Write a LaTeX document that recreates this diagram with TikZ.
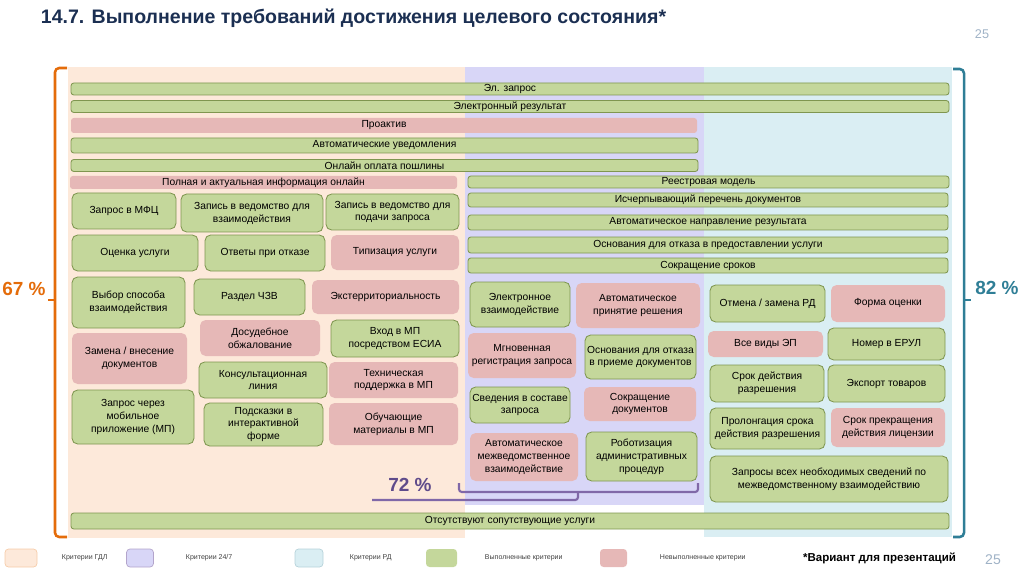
\documentclass[tikz,border=0pt]{standalone}
\usepackage{fontspec}
\setmainfont{Liberation Sans}

\definecolor{gdlbg}{HTML}{FDE9DA}
\definecolor{fullbg}{HTML}{D8D6F7}
\definecolor{rdbg}{HTML}{DAEEF3}
\definecolor{okfill}{HTML}{C4D79B}
\definecolor{okline}{HTML}{7F9650}
\definecolor{nofill}{HTML}{E6B8B7}
\definecolor{pctorange}{HTML}{E46C0A}
\definecolor{pctteal}{HTML}{2F7E96}
\definecolor{pctviolet}{HTML}{5F4B8B}
\definecolor{braceviolet}{HTML}{8068A8}
\definecolor{titleblue}{HTML}{1B2F52}
\definecolor{pagegray}{HTML}{9FB2C6}

\newcommand\boxfont{\fontsize{7.3}{9.2}\selectfont}
\newcommand\legfont{\fontsize{5}{6}\selectfont}

\tikzset{
  sz/.style 2 args={minimum width=#1*0.25mm, minimum height=#2*0.25mm},
  crit/.style={rounded corners=4pt, inner sep=0pt, align=center, font=\boxfont},
  okbox/.style={crit, draw=okline, fill=okfill, line width=0.6pt},
  nobox/.style={crit, fill=nofill},
  okbar/.style={okbox, rounded corners=2pt},
  nobar/.style={nobox, rounded corners=2pt},
  swatch/.style={rounded corners=2.5pt, line width=0.5pt, sz={#1}{18}},
  legtext/.style={anchor=west, font=\legfont, text=black!75},
  pct/.style={font=\fontsize{13.5}{15}\selectfont\bfseries},
}

\begin{document}
\begin{tikzpicture}[x=0.25mm, y=-0.25mm]
  \useasboundingbox (0,0) rectangle (1024,574);

  % Title
  \node (title) [anchor=west, text=titleblue, font=\fontsize{13.9}{15}\selectfont\bfseries] at (36,18)
    {14.7. Выполнение требований достижения целевого состояния*};
  \node (pagetop) [text=pagegray, font=\fontsize{9}{10}\selectfont] at (982,34) {25};

  % Backgrounds
  \fill[gdlbg] (68,67) rectangle (465,538);
  \fill[fullbg] (465,67) rectangle (704,505);
  \fill[rdbg] (704,67) rectangle (952,537);

  % Brackets
  \draw[pctorange, line width=1.8pt, rounded corners=3pt] (67,68) -| (55,537) -- (67,537);
  \draw[pctorange, line width=1.8pt] (55,300) -- (48,300);
  \draw[pctteal, line width=1.8pt, rounded corners=3pt] (953,69) -| (964,537) -- (953,537);
  \draw[pctteal, line width=1.8pt] (964,300) -- (971,300);
  \draw[braceviolet, line width=1.5pt, rounded corners=2pt] (459,483) -- (459,492) -- (698,492) -- (698,483);
  \draw[braceviolet, line width=1.5pt, rounded corners=2pt] (578,492) -- (578,500) -- (372,500);

  \node (p67) [pct, text=pctorange] at (24,289) {67 \%};
  \node (p82) [pct, text=pctteal] at (997,288) {82 \%};
  \node (p72) [pct, text=pctviolet] at (410,485) {72 \%};

  % Common bars
  \node (elzapros) [okbar, sz={878}{12}] at (510,89) {Эл. запрос};
  \node (elresult) [okbar, sz={878}{12}] at (510,106.5) {Электронный результат};
  \node (proaktiv) [nobar, sz={626}{15}] at (384,125.5) {Проактив};
  \node (avtouved) [okbar, sz={627}{15}] at (384.5,145.5) {Автоматические уведомления};
  \node (oplata) [okbar, sz={627}{12}] at (384.5,165.5) {Онлайн оплата пошлины};
  \node (polnaya) [nobar, sz={387}{13}] at (263.5,182.5) {Полная и актуальная информация онлайн};
  \node (reestr) [okbar, sz={481}{12}] at (708.5,182) {Реестровая модель};
  \node (perechen) [okbar, sz={480}{14}] at (708,200) {Исчерпывающий перечень документов};
  \node (napravl) [okbar, sz={480}{15}] at (708,222.5) {Автоматическое направление результата};
  \node (osnusl) [okbar, sz={480}{16}] at (708,245) {Основания для отказа в предоставлении услуги};
  \node (sroki) [okbar, sz={480}{15}] at (708,265.5) {Сокращение сроков};
  \node (soput) [okbar, sz={878}{16}] at (510,521) {Отсутствуют сопутствующие услуги};

  % GDL criteria
  \node (mfc) [okbox, sz={104}{36}] at (124,211) {Запрос в МФЦ};
  \node (zapvz) [okbox, sz={142}{38}] at (252,213) {Запись в ведомство для\\взаимодействия};
  \node (zappod) [okbox, sz={133}{36}] at (392.5,212) {Запись в ведомство для\\подачи запроса};
  \node (ocenka) [okbox, sz={126}{36}] at (135,253) {Оценка услуги};
  \node (otvety) [okbox, sz={120}{36}] at (265,253) {Ответы при отказе};
  \node (tipiz) [nobox, sz={128}{35}] at (395,252.5) {Типизация услуги};
  \node (vybor) [okbox, sz={113}{51}] at (128.5,302.5) {Выбор способа\\взаимодействия};
  \node (czv) [okbox, sz={111}{36}] at (249.5,297) {Раздел ЧЗВ};
  \node (ekster) [nobox, sz={147}{34}] at (385.5,297) {Экстерриториальность};
  \node (dosud) [nobox, sz={120}{36}] at (260,338) {Досудебное\\обжалование};
  \node (vhod) [okbox, sz={128}{37}] at (395,338.5) {Вход в МП\\посредством ЕСИА};
  \node (zamena) [nobox, sz={115}{51}] at (129.5,358.5) {Замена / внесение\\документов};
  \node (konsult) [okbox, sz={128}{36}] at (263,380) {Консультационная\\линия};
  \node (tehpod) [nobox, sz={129}{36}] at (393.5,380) {Техническая\\поддержка в МП};
  \node (zapmp) [okbox, sz={122}{54}] at (133,417) {Запрос через\\мобильное\\приложение (МП)};
  \node (podsk) [okbox, sz={119}{43}] at (263.5,424.5) {Подсказки в\\интерактивной\\форме};
  \node (obuch) [nobox, sz={129}{42}] at (393.5,424) {Обучающие\\материалы в МП};

  % 24/7 criteria
  \node (elvz) [okbox, sz={100}{45}] at (520,304.5) {Электронное\\взаимодействие};
  \node (avtoresh) [nobox, sz={124}{45}] at (638,305.5) {Автоматическое\\принятие решения};
  \node (mgnov) [nobox, sz={108}{45}] at (522,355.5) {Мгновенная\\регистрация запроса};
  \node (osnpriem) [okbox, sz={111}{44}] at (640.5,357) {Основания для отказа\\в приеме документов};
  \node (sved) [okbox, sz={100}{36}] at (520,405) {Сведения в составе\\запроса};
  \node (sokrdoc) [nobox, sz={112}{34}] at (640,404) {Сокращение\\документов};
  \node (avtomezh) [nobox, sz={108}{48}] at (524,457) {Автоматическое\\межведомственное\\взаимодействие};
  \node (robot) [okbox, sz={111}{49}] at (641.5,456.5) {Роботизация\\административных\\процедур};

  % RD criteria
  \node (otmena) [okbox, sz={115}{37}] at (767.5,303.5) {Отмена / замена РД};
  \node (forma) [nobox, sz={114}{37}] at (888,303.5) {Форма оценки};
  \node (vidyep) [nobox, sz={115}{26}] at (765.5,344) {Все виды ЭП};
  \node (erul) [okbox, sz={117}{32}] at (886.5,344) {Номер в ЕРУЛ};
  \node (srokdeist) [okbox, sz={114}{37}] at (767,383.5) {Срок действия\\разрешения};
  \node (eksport) [okbox, sz={117}{37}] at (886.5,383.5) {Экспорт товаров};
  \node (prolong) [okbox, sz={115}{41}] at (767.5,428.5) {Пролонгация срока\\действия разрешения};
  \node (prekr) [nobox, sz={114}{39}] at (888,427.5) {Срок прекращения\\действия лицензии};
  \node (zaprosy) [okbox, sz={238}{46}] at (829,479) {Запросы всех необходимых сведений по\\межведомственному взаимодействию};

  % Legend
  \node (sw1) [swatch=32, fill=gdlbg, draw=pctorange!35] at (21,558) {};
  \node (lg1) [legtext] at (57,558) {Критерии ГДЛ};
  \node (sw2) [swatch=27, fill=fullbg, draw=braceviolet!60] at (140,558) {};
  \node (lg2) [legtext] at (181,558) {Критерии 24/7};
  \node (sw3) [swatch=28, fill=rdbg, draw=pctteal!35] at (309,558) {};
  \node (lg3) [legtext] at (345,558) {Критерии РД};
  \node (sw4) [swatch=31, fill=okfill] at (441.5,558) {};
  \node (lg4) [legtext] at (480,558) {Выполненные критерии};
  \node (sw5) [swatch=27, fill=nofill] at (613.5,558) {};
  \node (lg5) [legtext] at (655,558) {Невыполненные критерии};
  \node (variant) [font=\fontsize{8.2}{10}\selectfont\bfseries] at (879.5,558) {*Вариант для презентаций};
  \node (pagebot) [text=pagegray, font=\fontsize{10}{11}\selectfont] at (993,560) {25};
\end{tikzpicture}
\end{document}
